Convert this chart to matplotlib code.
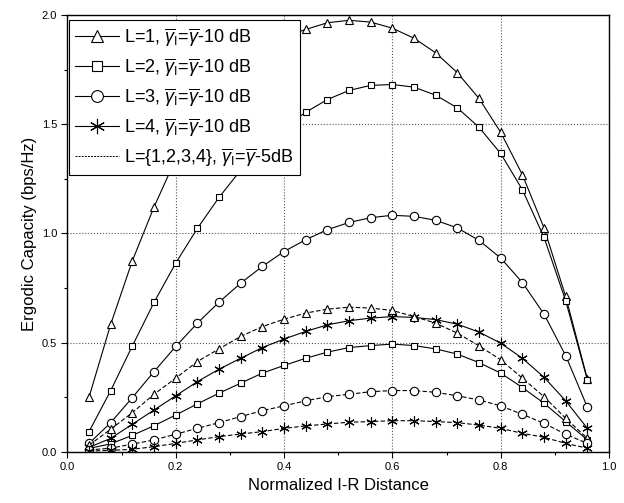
import matplotlib
matplotlib.use('Agg')
import matplotlib.pyplot as plt
import numpy as np
from matplotlib.lines import Line2D

# Нормированное расстояние I-R
x = [0.04, 0.08, 0.12, 0.16, 0.20, 0.24, 0.28, 0.32, 0.36, 0.40, 0.44, 0.48,
     0.52, 0.56, 0.60, 0.64, 0.68, 0.72, 0.76, 0.80, 0.84, 0.88, 0.92, 0.96]

# Сплошные кривые (γ_I = γ - 10 dB)
l1_solid = [0.25, 0.584, 0.875, 1.121, 1.341, 1.521, 1.661, 1.771, 1.851, 1.901, 1.934, 1.965,
            1.976, 1.968, 1.940, 1.894, 1.827, 1.736, 1.618, 1.463, 1.269, 1.025, 0.711, 0.333]
l2_solid = [0.092, 0.280, 0.485, 0.684, 0.864, 1.023, 1.165, 1.290, 1.395, 1.485, 1.555, 1.613,
            1.655, 1.678, 1.682, 1.670, 1.633, 1.575, 1.486, 1.366, 1.200, 0.982, 0.691, 0.329]
l3_solid = [0.038, 0.133, 0.248, 0.367, 0.482, 0.589, 0.685, 0.772, 0.849, 0.917, 0.971, 1.017,
            1.050, 1.072, 1.083, 1.078, 1.060, 1.025, 0.968, 0.887, 0.775, 0.630, 0.440, 0.204]
l4_solid = [0.020, 0.061, 0.126, 0.191, 0.256, 0.321, 0.378, 0.428, 0.477, 0.516, 0.551, 0.581,
            0.600, 0.612, 0.619, 0.615, 0.605, 0.584, 0.548, 0.497, 0.428, 0.341, 0.233, 0.107]
l2_low = [0.015, 0.036, 0.075, 0.119, 0.168, 0.219, 0.268, 0.314, 0.360, 0.395, 0.428, 0.456,
          0.477, 0.486, 0.493, 0.486, 0.471, 0.447, 0.408, 0.360, 0.294, 0.222, 0.138, 0.054]

# Пунктирные кривые (γ_I = γ - 5 dB)
l1_dash = [0.030, 0.103, 0.179, 0.263, 0.337, 0.413, 0.471, 0.528, 0.573, 0.607, 0.635, 0.653,
           0.662, 0.658, 0.647, 0.619, 0.589, 0.543, 0.485, 0.421, 0.337, 0.252, 0.153, 0.061]
l3_dash = [0.008, 0.016, 0.035, 0.054, 0.080, 0.107, 0.133, 0.161, 0.188, 0.210, 0.233, 0.252,
           0.263, 0.275, 0.280, 0.280, 0.272, 0.256, 0.237, 0.210, 0.171, 0.130, 0.080, 0.038]
l4_dash = [0.003, 0.006, 0.011, 0.023, 0.038, 0.054, 0.069, 0.081, 0.092, 0.107, 0.118, 0.127,
           0.135, 0.138, 0.142, 0.142, 0.138, 0.133, 0.122, 0.107, 0.084, 0.066, 0.038, 0.016]

plt.rcParams.update({
    'font.family': ['Liberation Sans', 'DejaVu Sans'],
    'mathtext.fontset': 'custom',
    'mathtext.rm': 'Liberation Sans',
    'mathtext.it': 'Liberation Sans:italic',
    'mathtext.bf': 'Liberation Sans:bold',
})

STAR = (6, 2, 0)
DASH = (0, (4, 2))
mk = dict(markersize=6, markerfacecolor='white', markeredgecolor='black',
          markeredgewidth=0.8, color='black', linewidth=0.8)

fig = plt.figure(figsize=(6.24, 5.03), dpi=100)
ax = fig.add_axes([0.108, 0.102, 0.868, 0.868])

ax.plot(x, l1_solid, marker='^', linestyle='-', **mk)
ax.plot(x, l2_solid, marker='s', linestyle='-', **{**mk, 'markersize': 5})
ax.plot(x, l3_solid, marker='o', linestyle='-', **mk)
ax.plot(x, l4_solid, marker=STAR, linestyle='-', **{**mk, 'markersize': 7.5})
ax.plot(x, l2_low, marker='s', linestyle='-', **{**mk, 'markersize': 5})
ax.plot(x, l1_dash, marker='^', linestyle=DASH, **mk)
ax.plot(x, l3_dash, marker='o', linestyle=DASH, **mk)
ax.plot(x, l4_dash, marker=STAR, linestyle=DASH, **{**mk, 'markersize': 7.5})

ax.set_xlim(0, 1.0)
ax.set_ylim(0, 2.0)
ax.set_xticks([0.0, 0.2, 0.4, 0.6, 0.8, 1.0])
ax.set_xticks([0.1, 0.3, 0.5, 0.7, 0.9], minor=True)
ax.set_yticks([0.0, 0.5, 1.0, 1.5, 2.0])
ax.set_yticks([0.25, 0.75, 1.25, 1.75], minor=True)
ax.xaxis.set_major_formatter(plt.FormatStrFormatter('%.1f'))
ax.yaxis.set_major_formatter(plt.FormatStrFormatter('%.1f'))
ax.tick_params(which='major', direction='out', length=4, width=0.8, labelsize=8)
ax.tick_params(which='minor', direction='out', length=2.5, width=0.8)
ax.grid(True, which='major', linestyle=':', color='#555555', linewidth=0.8)
for s in ax.spines.values():
    s.set_linewidth(1.0)

ax.set_xlabel('Normalized I-R Distance', fontsize=12, labelpad=4)
ax.set_ylabel('Ergodic Capacity (bps/Hz)', fontsize=12, labelpad=3)

gl = r'$\overline{\gamma}_{\mathregular{I}}$=$\overline{\gamma}$'
handles = [
    Line2D([], [], marker='^', linestyle='-', **{**mk, 'markersize': 9}),
    Line2D([], [], marker='s', linestyle='-', **{**mk, 'markersize': 7.5}),
    Line2D([], [], marker='o', linestyle='-', **{**mk, 'markersize': 8.5}),
    Line2D([], [], marker=STAR, linestyle='-', **{**mk, 'markersize': 11}),
    Line2D([], [], linestyle=(0, (2, 1.2)), color='black', linewidth=0.7),
]
labels = ['L=1, ' + gl + '-10 dB', 'L=2, ' + gl + '-10 dB', 'L=3, ' + gl + '-10 dB',
          'L=4, ' + gl + '-10 dB', 'L={1,2,3,4}, ' + gl + '-5dB']
leg = ax.legend(handles, labels, loc='upper left', fontsize=13, frameon=True,
                fancybox=False, edgecolor='black', framealpha=1.0,
                handlelength=2.4, handletextpad=0.3, labelspacing=0.45,
                borderpad=0.35, borderaxespad=0, bbox_to_anchor=(0.003, 0.988))
leg.get_frame().set_linewidth(0.8)
leg.set_zorder(10)

fig.savefig('out.png', dpi=100)
